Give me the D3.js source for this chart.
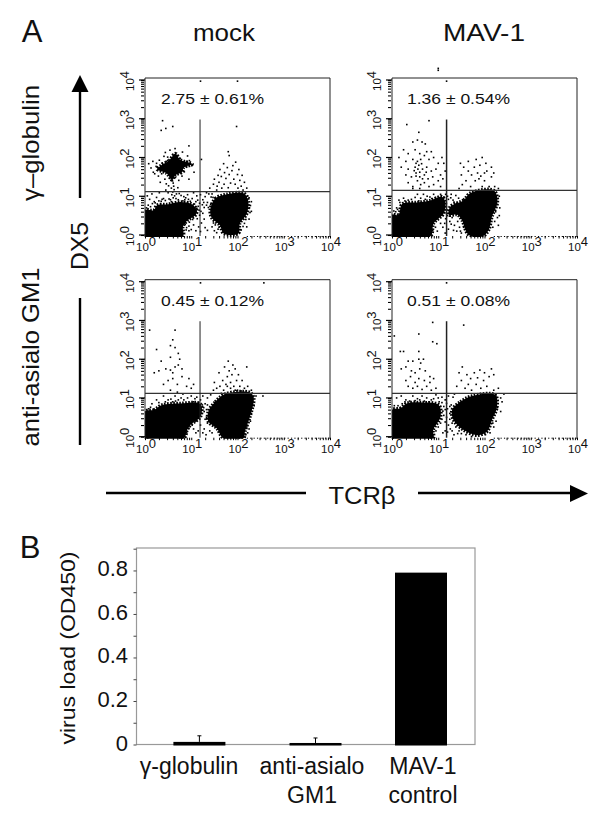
<!DOCTYPE html>
<html><head><meta charset="utf-8">
<style>html,body{margin:0;background:#fff}svg{display:block}text{font-family:"Liberation Sans",Arial,sans-serif;fill:#111}</style>
<script src="https://cdn.jsdelivr.net/npm/d3@7"></script></head><body><svg id="c" width="600" height="821"></svg>
<script>
// Flow panels: values are log10 decades.
const panelLabels=["2.75 \u00b1 0.61%","1.36 \u00b1 0.54%","0.45 \u00b1 0.12%","0.51 \u00b1 0.08%"];
const gateX=[1.19,1.18,1.19,1.18];
const gateY=[1.12,1.15,1.12,1.12];
// outlines of the solid populations [x, y]
const pop1=[[[0,.64],[.19,.64],[.26,.77],[.48,.79],[.77,.85],[1.02,.79],[1.12,.64],[1.09,.51],[.92,.38],[.82,.21],[.82,-.03],[0,-.03]],
 [[1.41,.64],[1.52,.94],[1.77,1.05],[2.13,1.08],[2.23,.89],[2.2,.55],[2.05,.3],[2.02,.04],[1.7,.04],[1.62,.25],[1.45,.43]],
 [[.34,1.79],[.52,1.92],[.66,2.1],[.76,1.94],[1.02,1.83],[.84,1.74],[.8,1.62],[.66,1.55],[.59,1.42],[.46,1.6],[.26,1.7]]];
const pop2=[[[0,.52],[.14,.52],[.22,.8],[.54,.84],[.83,.89],[1.08,.99],[1.15,.86],[1.12,.56],[.9,.3],[.83,-.03],[0,-.03]],
 [[1.26,.73],[1.55,.9],[1.69,1.08],[2.2,1.15],[2.28,.86],[2.16,.47],[2.09,.13],[1.95,-.04],[1.66,0],[1.51,.39],[1.41,.52],[1.23,.52]]];
const pop3=[[[0,.65],[.19,.69],[.37,.82],[.77,.86],[1.2,.84],[1.2,.52],[.98,.3],[.91,.17],[.84,-.04],[0,-.04]],
 [[1.37,.65],[1.52,.9],[1.73,1.1],[2.27,1.14],[2.35,.99],[2.27,.52],[2.16,.13],[2.13,-.04],[1.7,-.04],[1.55,.22],[1.37,.39]]];
const pop4=[[[0,.69],[.18,.73],[.32,.86],[.65,.88],[1.01,.82],[1.05,.52],[.89,.17],[.89,-.04],[0,-.04]],
 [[1.3,.69],[1.48,.9],[1.73,1.05],[2.23,1.08],[2.27,.77],[2.16,.43],[2.05,.13],[1.84,.04],[1.55,.17],[1.33,.43]]];
// individual events [x, y]
const dots1=[[.38,2.95],[.35,2.7],[.45,2.75],[.6,2.8],[1.2,3.97],[2,3.97],[1.98,2.8],[1.8,2.15],[1.82,2.05],[.95,2.3],[.08,1.84],[.13,1.73],[.21,1.58],[.24,1.77],[.31,1.93],[.29,1.52],[.37,1.86],[.33,1.36],[.41,2.03],[.4,1.67],[.43,1.44],[.46,1.32],[.44,2.13],[.51,1.27],[.49,2.01],[.56,1.41],[.54,2.19],[.61,1.34],[.6,2.08],[.63,1.17],[.66,1.49],[.65,2.23],[.71,1.22],[.7,2.05],[.73,1.41],[.76,1.97],[.8,1.52],[.81,2.14],[.86,1.87],[.85,1.63],[.9,1.76],[.92,2.04],[.96,1.92],[1.01,1.79],[1.06,1.62],[.95,1.44],[1.22,1.95],[.58,1.04],[.61,.96],[.6,1.11],[.57,1.21],[.62,1.26],[.55,.91],[.64,1.01],[.5,1.09],[.68,1.06],[.45,1.16],[.05,1.01],[.1,.92],[.15,1.06],[.2,.86],[.25,.97],[.31,1.09],[.35,.87],[.4,.94],[.72,.91],[.78,1.02],[.82,.88],[.88,.96],[.92,1.04],[.98,.87],[1.02,.94],[1.05,1.09],[1.1,.86],[1.12,1.01],[1.15,.74],[1.2,1.04],[1.25,.91],[1.28,.71],[1.3,.99],[1.35,.84],[1.38,1.06],[1.1,.61],[1.13,.42],[1.18,.51],[1.22,.31],[1.25,.56],[1.16,.21],[1.2,.09],[1.28,.41],[1.3,.19],[1.1,.11],[1.35,.12],[1.05,.26],[1,.14],[.95,.11],[.9,.19],[1.4,1.21],[1.45,1.06],[1.48,1.31],[1.5,1.44],[1.55,1.16],[1.56,1.26],[1.58,1.54],[1.6,1.36],[1.62,1.69],[1.65,1.51],[1.66,1.21],[1.7,1.84],[1.71,1.31],[1.72,1.61],[1.75,1.46],[1.78,1.74],[1.8,1.22],[1.82,1.56],[1.85,1.34],[1.88,1.66],[1.9,1.79],[1.92,1.44],[1.95,1.31],[1.96,1.88],[2,1.56],[2.01,1.21],[2.03,1.69],[2.05,1.41],[2.08,1.26],[2.1,1.54],[2.12,1.16],[2.15,1.36],[2.2,1.21],[2.25,.96],[2.28,.76],[2.3,.61],[2.25,.41],[2.3,.86],[2.2,.21],[2.22,1.01],[1.5,.11],[1.45,.21],[1.52,.26],[1.55,.06],[.03,.7],[.07,.77],[.12,.73],[.16,.81],[.22,.83],[.3,.88],[.37,.92],[.44,.89],[.52,.93],[.57,.86],[.67,.94],[.74,1.07],[.84,.99],[.86,.91],[.94,.92],[1.07,.8],[1.14,.9],[1.18,.82],[1.24,.78],[1.27,.84],[1.33,.77],[1.37,.71],[1.42,.79],[1.43,.98],[1.47,.97],[1.33,1.09],[1.12,.69],[1.17,.64],[1.21,.61],[.87,.28],[.96,.33],[1.03,.4],[.89,.13],[.95,.23],[.85,.3],[1.58,.15],[1.6,.2],[1.48,.31],[2.08,.13],[2.12,.22],[2.15,.3],[2.18,.4],[2.27,.58],[2.26,.7],[.74,1.72],[.42,1.74],[.58,1.75],[.52,1.82],[.7,1.85],[.46,1.9],[.65,1.65],[.9,1.9],[.36,1.58],[.77,1.6],[.56,1.6],[.25,1.85],[.17,1.9],[.18,1.62]];
const dots2=[[1,4.3],[1,4.25],[1.18,3.97],[.8,2.95],[.32,2.85],[.58,2.65],[.45,2.4],[.55,2.45],[.65,2.4],[.72,2.35],[.25,2.2],[.35,2.1],[.5,2.2],[.6,2.1],[.75,2.15],[.85,2.15],[.15,2],[.3,1.9],[.45,1.95],[.55,1.9],[.62,1.95],[.7,2.05],[.8,1.95],[.9,2.0],[1,1.85],[1.08,2.0],[1.12,1.85],[.2,1.75],[.35,1.7],[.5,1.75],[.58,1.8],[.66,1.7],[.75,1.75],[.85,1.65],[.95,1.7],[1.05,1.55],[1.15,1.65],[.3,1.55],[.42,1.5],[.52,1.6],[.6,1.5],[.7,1.55],[.78,1.45],[.88,1.5],[1,1.4],[1.1,1.45],[.35,1.35],[.45,1.25],[.55,1.4],[.62,1.3],[.7,1.35],[.8,1.25],[.9,1.3],[1.05,1.25],[.45,1.2],[.55,1.05],[.6,1.2],[.62,.95],[.68,1.05],[.72,.92],[.82,.98],[.9,1.05],[.98,.9],[1.05,1.05],[1.12,.98],[.15,.9],[.25,.95],[.35,.9],[.1,.7],[1.2,1.0],[1.28,1.05],[1.32,.9],[1.38,1.02],[1.3,.7],[1.36,.8],[1.25,.35],[1.22,.15],[1.3,.45],[1.1,.2],[1.05,.3],[.98,.1],[1.15,.05],[1.35,.25],[1.4,.1],[1.42,.35],[1.5,.05],[1.55,.2],[1.45,1.2],[1.52,1.3],[1.55,1.75],[1.48,1.85],[1.5,1.55],[1.6,1.4],[1.65,1.9],[1.65,1.65],[1.7,1.25],[1.72,1.55],[1.78,1.75],[1.8,1.4],[1.82,1.95],[1.85,1.6],[1.88,1.45],[1.9,1.8],[1.92,1.52],[1.95,1.25],[1.95,2],[2,1.6],[2,1.4],[2.03,1.85],[2.05,1.65],[2.1,1.25],[2.15,1.75],[2.15,1.5],[2.2,1.6],[2.22,1.25],[2.3,1.2],[2.32,1],[2.33,.7],[2.28,.45],[2.3,.25],[2.32,.5],[.04,.62],[.08,.6],[.12,.66],[.17,.84],[.28,.88],[.42,.92],[.5,.97],[.58,.88],[.76,1],[.86,.94],[.94,.97],[1.02,.93],[1.16,1.05],[1.22,.92],[1.27,.96],[1.34,.85],[1.4,.82],[1.44,.95],[1.18,.65],[1.2,.5],[1.16,.42],[1.14,.3],[.94,.2],[.88,.12],[1.28,.28],[1.33,.12],[1.46,.2],[1.48,.1],[2.24,.6],[2.22,.35],[2.18,.2],[.52,1.85],[.56,1.7],[.48,1.66],[.64,1.84],[.6,1.62],[.52,1.52],[.66,1.45],[.74,1.62]];
const dots3=[[1.2,3.97],[2.57,3.97],[.1,2.75],[.65,2.75],[.6,2.5],[.55,2.35],[.65,2.3],[.72,2.15],[.25,2.25],[.35,1.95],[.55,2.05],[.75,2.0],[.3,1.7],[.45,1.75],[.55,1.72],[.6,1.65],[.65,1.8],[.72,1.85],[.8,1.75],[.8,1.55],[.2,1.65],[.5,1.45],[.6,1.5],[.4,1.35],[.7,1.35],[.95,1.5],[.9,1.3],[1,1.25],[1.05,1.35],[.55,1.2],[.65,1.05],[.7,1.15],[.78,1.0],[.82,1.1],[.15,.85],[.25,.95],[.4,1.05],[.5,.95],[.6,.9],[.72,.95],[1,1.05],[1.05,.9],[1.12,1.02],[1.2,.95],[1.25,1.05],[1.3,.85],[1.35,1.0],[1.42,1.08],[1.28,.65],[1.3,.45],[1.22,.6],[1.2,.3],[1.15,.15],[1.28,.2],[1.1,.1],[1.35,.35],[1.05,.2],[1.4,.15],[1.45,.1],[1.48,1.2],[1.5,1.4],[1.55,1.25],[1.6,1.65],[1.62,1.3],[1.68,1.45],[1.7,1.2],[1.72,1.8],[1.75,1.35],[1.78,1.55],[1.8,1.95],[1.82,1.7],[1.85,1.4],[1.85,1.25],[1.88,1.6],[1.9,1.85],[1.92,1.3],[1.95,1.75],[1.98,1.45],[2,1.2],[2.02,1.6],[2.05,1.3],[2.1,1.45],[2.15,1.25],[2.2,1.8],[2.22,1.3],[2.3,1.2],[2.33,1],[2.36,.8],[2.3,.6],[2.28,.4],[2.4,1.05],[2.55,1.05],[2.25,.2],[2.32,.9],[.08,.72],[.12,.76],[.3,.88],[.44,.9],[.56,.97],[.66,.92],[.84,.95],[.92,1.0],[1.08,.98],[1.16,.88],[1.24,.82],[1.27,.75],[1.33,.7],[1.35,.82],[1.18,.7],[1.15,.55],[1.1,.4],[1.02,.3],[.95,.22],[.9,.1],[1.25,.1],[1.32,.05],[1.33,.5],[1.5,.28],[1.48,.4],[2.22,.1],[2.2,.25],[2.18,.05],[1.42,.55],[1.65,1.12],[1.78,1.3],[1.95,1.2],[2.08,1.18]];
const dots4=[[1.18,3.97],[.88,2.95],[1.55,2.88],[.58,2.65],[.88,2.45],[.97,2.4],[.05,2.6],[.18,2.2],[.25,2.2],[.58,2.2],[.35,1.95],[.45,1.95],[.58,2],[.62,1.9],[.68,2],[.2,1.75],[.3,1.8],[.42,1.7],[.5,1.65],[.6,1.75],[.72,1.7],[.82,1.55],[.3,1.45],[.4,1.55],[.5,1.4],[.58,1.5],[.7,1.45],[.82,1.4],[.9,1.5],[.35,1.3],[.45,1.25],[.55,1.3],[.65,1.22],[.75,1.3],[.85,1.2],[.95,1.25],[.1,1],[.2,1.05],[.3,.95],[.45,1.05],[.55,.98],[.65,1.05],[.75,1],[.85,.95],[.95,1.08],[1.02,.9],[1.08,1.02],[1.15,.95],[1.22,1.05],[1.28,.82],[1.32,1.02],[1.25,.6],[1.3,.35],[1.22,.3],[1.15,.15],[1.3,.15],[1.38,.25],[1.42,.08],[1.1,.1],[1.35,1.1],[1.4,1.3],[1.45,1.65],[1.5,1.45],[1.52,1.8],[1.58,1.25],[1.62,1.6],[1.65,1.35],[1.7,1.5],[1.72,1.2],[1.78,1.65],[1.82,1.35],[1.85,1.52],[1.9,1.72],[1.92,1.25],[1.98,1.45],[2,1.65],[2.05,1.3],[2.1,1.55],[2.15,1.75],[2.2,1.6],[2.2,1.2],[2.25,1.05],[2.3,1.25],[2.35,1.0],[2.38,.9],[2.42,1.1],[2.35,.65],[2.28,.75],[2.25,.4],[2.2,.25],[.05,.8],[.13,.8],[.22,.85],[.28,.9],[.38,.92],[.5,.93],[.6,.95],[.7,.92],[.8,.9],[.9,.98],[1,1],[1.08,.88],[1.12,.78],[1.18,.86],[1.1,.66],[1.15,.7],[1.2,.72],[1.25,.78],[1.12,.55],[1.18,.5],[1.08,.45],[1.15,.38],[1.05,.35],[1,.25],[.95,.15],[1.2,.12],[1.26,.2],[1.34,.05],[1.25,.45],[1.38,.38],[1.45,.15],[1.5,.08],[1.6,.05],[1.72,0],[2.12,.1],[2.02,.05],[2.18,.35]];
const panelPops=[pop1,pop2,pop3,pop4];
const panelDots=[dots1,dots2,dots3,dots4];
const logTickLabels=[0,1,2,3,4];
// bar chart
const categories=["\u03b3-globulin","anti-asialo GM1","MAV-1 control"];
const virusLoad=[0.012,0.007,0.79];
const virusErr=[0.04,0.03,0];
const barTicks=[0,0.1,0.2,0.3,0.4,0.5,0.6,0.7,0.8,0.9];
const barLabels=["0","0.2","0.4","0.6","0.8"];

const svg=d3.select("#c");
const ink="#000";
const panels=[
 {i:0,x:[145,330],y:[235,80]},
 {i:1,x:[392,577],y:[235,80]},
 {i:2,x:[145,330],y:[436.7,281.7]},
 {i:3,x:[392,577],y:[436.7,281.7]}];
const minors=d3.range(0,4).flatMap(k=>d3.range(1,10).map(m=>m*10**k)).concat([10000]);
function expLabel(t,k,size){
  t.append("tspan").text("10").attr("font-size",size);
  t.append("tspan").text(k).attr("font-size",size+1.5).attr("dy",-5);
}
panels.forEach(p=>{
  const X=d3.scaleLog().domain([1,10000]).range(p.x);
  const Y=d3.scaleLog().domain([1,10000]).range(p.y);
  const top=p.y[1]-2, bot=p.y[0]+2;
  const g=svg.append("g");
  const id="clip"+p.i;
  g.append("clipPath").attr("id",id).append("rect").attr("x",p.x[0]).attr("y",top).attr("width",p.x[1]-p.x[0]).attr("height",bot-top);
  const outline=d3.line().x(d=>X(10**d[0])).y(d=>Y(10**d[1])).curve(d3.curveCatmullRomClosed);
  g.append("g").attr("clip-path",`url(#${id})`).selectAll("path").data(panelPops[p.i]).join("path").attr("d",outline)
   .attr("fill",ink).attr("stroke",ink).attr("stroke-width",3.5).attr("stroke-dasharray","1.6 1.4");
  g.selectAll("rect.ev").data(panelDots[p.i]).join("rect").attr("class","ev")
   .attr("x",d=>X(10**d[0])-.8).attr("y",d=>Y(10**d[1])-.8).attr("width",1.6).attr("height",1.6).attr("fill",ink);
  g.append("path").attr("d",`M${p.x[0]},${bot}V${top}H${p.x[1]}V${bot}`).attr("fill","none").attr("stroke","#222").attr("stroke-width",1);
  const ax=d3.axisBottom(X).tickValues(minors).tickFormat("").tickSizeOuter(0).tickSize(2.5);
  const ag=g.append("g").attr("transform",`translate(0,${p.y[0]+1})`).call(ax);
  ag.select(".domain").remove(); ag.selectAll("line").attr("stroke",ink).attr("stroke-width",1);
  g.append("line").attr("x1",X(10**2.2)).attr("x2",p.x[1]).attr("y1",p.y[0]+1.5).attr("y2",p.y[0]+1.5).attr("stroke",ink).attr("stroke-dasharray","1.2 2.2");
  const ay=d3.axisLeft(Y).tickValues(minors).tickFormat("").tickSize(3);
  const yg=g.append("g").attr("transform",`translate(${p.x[0]-1},0)`).call(ay);
  yg.select(".domain").remove(); yg.selectAll("line").attr("stroke",ink).attr("stroke-width",1.1);
  logTickLabels.forEach(k=>{
    g.append("line").attr("x1",p.x[0]-6).attr("x2",p.x[0]).attr("y1",Y(10**k)).attr("y2",Y(10**k)).attr("stroke",ink).attr("stroke-width",1.2);
    expLabel(g.append("text").attr("x",X(10**k)+1).attr("y",p.y[0]+16).attr("text-anchor","middle"),k,11.5);
    expLabel(g.append("text").attr("transform",`translate(${p.x[0]-11},${Y(10**k)+1}) rotate(-90)`).attr("text-anchor","middle"),k,11.5);
  });
  g.append("line").attr("x1",p.x[0]).attr("x2",p.x[1]).attr("y1",Y(10**gateY[p.i])).attr("y2",Y(10**gateY[p.i])).attr("stroke","#333").attr("stroke-width",1.3);
  g.append("line").attr("x1",X(10**gateX[p.i])).attr("x2",X(10**gateX[p.i])).attr("y1",Y(10**2.98)).attr("y2",p.y[0]+1).attr("stroke","#222").attr("stroke-width",p.i%2?1.5:1);
  g.append("text").attr("x",p.x[0]+(p.i%2?15:16)).attr("y",p.y[1]+24).attr("font-size",15)
   .attr("textLength",103).attr("lengthAdjust","spacingAndGlyphs").text(panelLabels[p.i]);
});

function label(txt,x,y,size,rot,anchor,len){
  const t=svg.append("text").attr("font-size",size).attr("text-anchor",anchor||"middle").text(txt);
  t.attr("transform",`translate(${x},${y})`+(rot?` rotate(${rot})`:""));
  if(len)t.attr("textLength",len).attr("lengthAdjust","spacingAndGlyphs");
  return t;
}
label("A",32,42,31);
label("B",30,558,31);
label("mock",224,41,24,0,"middle",62);
label("MAV-1",484,41,24,0,"middle",82);
label("\u03b3\u2013globulin",39,143,24,-90,"middle",116);
label("anti-asialo GM1",39,357,24,-90,"middle",179);
label("DX5",88,246,24,-90,"middle",48);
label("TCR\u03b2",362,504,24,0,"middle",67);
function arrow(d){svg.append("path").attr("d",d).attr("fill","none").attr("stroke",ink).attr("stroke-width",2.4);}
arrow("M80,198V88"); svg.append("path").attr("d","M80,75L71.5,92H88.5Z").attr("fill",ink);
arrow("M80,298V445");
arrow("M106,493H306"); arrow("M418,493H575"); svg.append("path").attr("d","M588,493.5L570,485V502Z").attr("fill",ink);

const bx=d3.scaleOrdinal(categories,[199.4,315.5,421]);
const lx=d3.scaleOrdinal(categories,[189,312,423]);
const by=d3.scaleLinear().domain([0,0.9]).range([744.5,548.7]);
const bw=52;
const gb=svg.append("g");
gb.append("rect").attr("x",136.5).attr("y",548).attr("width",338.5).attr("height",196.5).attr("fill","none").attr("stroke","#999").attr("stroke-width",1.2);
const ya=d3.axisLeft(by).tickValues(barTicks).tickFormat("").tickSize(3).tickSizeOuter(0);
const yb=gb.append("g").attr("transform","translate(136.5,0)").call(ya);
yb.select(".domain").remove(); yb.selectAll("line").attr("stroke","#444");
gb.selectAll("rect.bar").data(categories).join("rect").attr("class","bar")
 .attr("x",c=>bx(c)-bw/2).attr("width",bw)
 .attr("y",(c,i)=>by(virusLoad[i])).attr("height",(c,i)=>by(0)-by(virusLoad[i])+1).attr("fill",ink);
categories.forEach((c,i)=>{ if(virusErr[i]>0){
  gb.append("path").attr("d",`M${bx(c)},${by(virusLoad[i])}V${by(virusErr[i])}m-2,0h4`).attr("stroke",ink).attr("fill","none").attr("stroke-width",1);
}});
barLabels.forEach(s=>{ label(s,128,by(+s)+6,22,0,"end"); });
label("virus load (OD450)",75,648,21,-90,"middle",193);
categories.forEach((c,i)=>{
  const parts=i===0?[c]:(i===1?["anti-asialo","GM1"]:["MAV-1","control"]);
  parts.forEach((s,j)=>label(s,lx(c),774+j*29,23));
});
</script></body></html>
